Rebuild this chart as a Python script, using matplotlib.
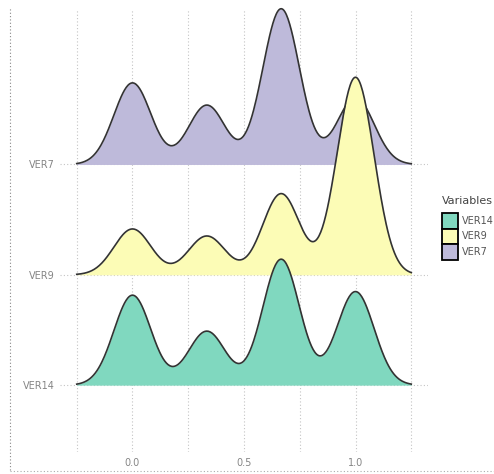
import matplotlib.pyplot as plt
import numpy as np
from matplotlib.patches import Patch
from matplotlib.lines import Line2D

# response levels and how many answers fell on each level
levels = [0.0, 1 / 3, 2 / 3, 1.0]
ver14_counts = [25, 15, 35, 26]
ver9_counts = [13, 11, 23, 56]
ver7_counts = [22, 16, 42, 18]

variables = ["VER14", "VER9", "VER7"]
counts = [ver14_counts, ver9_counts, ver7_counts]
colors = ["#80D8BF", "#FCFCB6", "#BEBADA"]
x_ticks = [0.0, 0.5, 1.0]


def kde(values, weights, grid, bw):
	values = np.asarray(values)
	weights = np.asarray(weights, dtype=float)
	weights = weights / weights.sum()
	z = (grid[:, None] - values[None, :]) / bw
	return (np.exp(-0.5 * z ** 2) * weights).sum(axis=1) / (bw * np.sqrt(2 * np.pi))


def main():
	bw = 0.25 / 3
	grid = np.linspace(-0.25, 1.25, 400)
	dens = [kde(levels, c, grid, bw) for c in counts]
	scale = 1.79 / max(d.max() for d in dens)

	fig = plt.figure(figsize=(4.94, 4.74), dpi=100)
	ax = fig.add_axes([60 / 494, 1 - 452 / 474, 368 / 494, 442 / 474])

	grid_col = "#c4c4c4"
	for gx in [-0.25, 0.0, 0.25, 0.5, 0.75, 1.0, 1.25]:
		ax.axvline(gx, color=grid_col, lw=0.8, ls=(0, (1, 2)), zorder=0)
	for i in range(len(variables)):
		ax.axhline(i + 1, color=grid_col, lw=0.8, ls=(0, (1, 2)), zorder=0)

	# top row first so the lower rows sit on top
	for i in reversed(range(len(variables))):
		base = i + 1
		y = base + dens[i] * scale
		z = 2 + (len(variables) - i)
		ax.fill_between(grid, base, y, color=colors[i], lw=0, zorder=z, clip_on=False)
		ax.plot(grid, y, color="#333333", lw=1.2, zorder=z, clip_on=False)

	ax.set_xlim(-0.325, 1.325)
	ax.set_ylim(0.394, 4.40)
	ax.set_xticks(x_ticks)
	ax.set_xticklabels(["0.0", "0.5", "1.0"])
	ax.set_yticks([1, 2, 3])
	ax.set_yticklabels(variables)
	ax.tick_params(length=0, labelsize=7, labelcolor="#858585", pad=4)
	for s in ax.spines.values():
		s.set_visible(False)

	handles = [Patch(facecolor=c, edgecolor="black", lw=1.3) for c in colors]
	leg = fig.legend(handles, variables, title="Variables", loc="upper left",
		bbox_to_anchor=(442 / 494, 1 - 196 / 474), frameon=False, fontsize=7,
		title_fontsize=8, handlelength=1.6, handleheight=2.1, labelspacing=0.0,
		handletextpad=0.45, borderaxespad=0, borderpad=0)
	leg._legend_box.align = "left"
	leg._legend_box.sep = 5
	for t in leg.get_texts():
		t.set_color("#555555")
	leg.get_title().set_color("#444444")

	# dotted frame visible along the left and bottom of the screenshot
	fig.add_artist(Line2D([10 / 494, 10 / 494], [1 - 470 / 474, 1 - 8 / 474],
		transform=fig.transFigure, color="#888888", lw=0.8, ls=(0, (1, 2))))
	fig.add_artist(Line2D([10 / 494, 1], [1 - 471 / 474, 1 - 471 / 474],
		transform=fig.transFigure, color="#aaaaaa", lw=0.8, ls=(0, (1, 2))))

	fig.savefig("out.png", dpi=100)


if __name__ == "__main__":
	main()
